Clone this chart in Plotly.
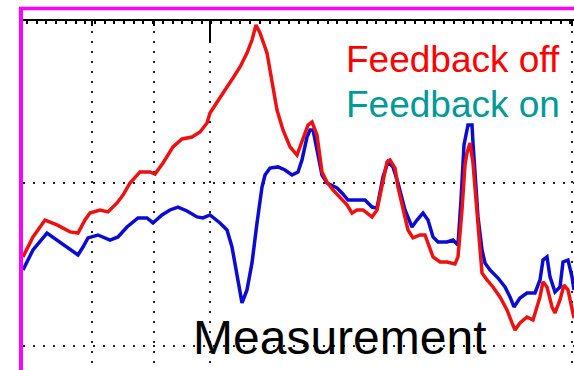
import plotly.graph_objects as go

# Frequency bins (x) and level in dB (y) for both measurements
freq_off = [0, 10, 22, 34, 47, 55, 62, 67, 77, 85, 94, 100, 107, 112, 117, 127, 132, 140, 150, 159,
            169, 177, 184, 187, 195, 204, 210, 217, 224, 229, 233, 237, 244, 249, 254, 260, 267, 274, 280, 285,
            289, 294, 299, 304, 310, 317, 324, 329, 334, 340, 349, 354, 359, 364, 367, 372, 375, 380, 385, 390,
            397, 402, 405, 410, 417, 424, 432, 435, 439, 442, 444, 447, 450, 454, 457, 459, 464, 470, 477, 484,
            489, 492, 497, 504, 510, 517, 520, 524, 529, 532, 537, 541, 545, 549, 551]
level_off = [5.48, 6.71, 7.75, 7.45, 7.02, 6.95, 7.75, 8.18, 8.37, 8.25, 8.80, 9.29, 10.03, 10.40, 10.71, 10.71, 10.58, 11.26, 12.25, 12.74,
             12.86, 13.17, 13.72, 14.34, 15.14, 15.94, 16.49, 17.17, 18.03, 18.83, 19.75, 19.26, 18.03, 16.18, 14.52, 13.29, 12.25, 11.75, 12.68, 13.60,
             13.78, 12.98, 10.71, 10.09, 9.60, 9.17, 8.68, 8.18, 8.37, 8.37, 7.94, 8.37, 9.78, 11.32, 11.45, 10.95, 9.78, 8.37, 7.14, 6.65,
             6.83, 6.83, 6.34, 5.48, 5.17, 5.17, 5.05, 5.48, 8.37, 11.14, 11.88, 12.49, 11.26, 8.37, 5.72, 4.49, 4.06, 3.63, 3.02, 2.22,
             1.42, 0.98, 1.42, 1.78, 1.60, 3.02, 3.94, 3.63, 2.40, 2.03, 2.83, 3.75, 3.45, 2.22, 1.72]

freq_on = [0, 10, 24, 40, 55, 60, 65, 75, 87, 95, 104, 115, 124, 130, 139, 147, 155, 164, 174, 180,
           187, 197, 204, 209, 214, 219, 224, 229, 234, 239, 242, 247, 255, 262, 269, 275, 279, 284, 287, 290,
           294, 299, 304, 314, 319, 325, 334, 342, 349, 354, 360, 365, 370, 375, 382, 389, 394, 400, 405, 410,
           415, 424, 430, 435, 438, 441, 445, 449, 450, 452, 455, 459, 462, 467, 475, 482, 487, 491, 497, 504,
           512, 517, 520, 524, 527, 532, 537, 540, 545, 549, 551]
level_on = [4.68, 5.91, 6.95, 6.22, 5.60, 6.09, 6.65, 6.83, 6.52, 6.71, 7.32, 7.88, 7.88, 7.57, 8.06, 8.37, 8.55, 8.31, 7.94, 7.88,
            8.06, 7.57, 7.14, 6.09, 4.49, 2.65, 3.45, 5.11, 7.57, 9.78, 10.52, 10.95, 11.02, 10.83, 10.52, 10.71, 11.45, 12.86, 13.29, 13.29,
            12.06, 10.52, 10.03, 9.72, 9.42, 8.98, 8.98, 8.98, 8.55, 8.49, 10.40, 11.32, 11.02, 10.03, 8.37, 7.32, 7.75, 8.18, 7.75, 6.71,
            6.40, 6.40, 6.52, 6.22, 8.98, 12.37, 13.60, 13.60, 12.49, 10.40, 7.94, 5.91, 5.11, 4.68, 4.18, 3.63, 3.02, 2.40, 2.95, 3.26,
            3.26, 4.06, 5.29, 5.48, 4.25, 3.32, 3.63, 5.17, 5.29, 4.25, 3.45]

grid_x = [69, 131, 187, 549]
grid_y = [0, 10, 20]
x_range = [0, 551]
y_range = [-1.48, 20.0]

assert len(freq_off) == len(level_off)
assert len(freq_on) == len(level_on)

RED = "#ee1111"
BLUE = "#0b0bd2"
MAGENTA = "#ff00ff"
FONT = "Arial, Liberation Sans, sans-serif"

fig = go.Figure()
fig.add_trace(go.Scatter(x=freq_on, y=level_on, mode="lines",
                         line=dict(color=BLUE, width=3.5), name="Feedback on"))
fig.add_trace(go.Scatter(x=freq_off, y=level_off, mode="lines",
                         line=dict(color=RED, width=3.5), name="Feedback off"))

W, H = 574, 370
ml, mt = 23, 21
pw, ph = W - ml, H - mt


def px_x(px):
    return (px - ml) / pw


def px_y(py):
    return (H - py) / ph


fig.update_layout(
    width=W, height=H,
    margin=dict(l=ml, r=0, t=mt, b=0, pad=0),
    paper_bgcolor="white", plot_bgcolor="white",
    showlegend=False,
    xaxis=dict(
        range=x_range, side="top", showline=True, linecolor="black", linewidth=2,
        tickmode="array", tickvals=grid_x, showticklabels=False,
        ticks="inside", ticklen=5, tickwidth=2, tickcolor="black",
        showgrid=True, gridcolor="#222222", gridwidth=2, griddash="2px,8px",
        zeroline=False,
        minor=dict(tickmode="linear", tick0=4, dtick=9.7, ticks="inside",
                   ticklen=3, tickwidth=1.5, tickcolor="black", showgrid=False),
    ),
    yaxis=dict(
        range=y_range, showline=False, showticklabels=False, ticks="",
        tickmode="array", tickvals=grid_y,
        showgrid=True, gridcolor="#222222", gridwidth=2, griddash="2px,8px",
        zeroline=False,
    ),
    shapes=[
        # long major tick on the top frame
        dict(type="line", xref="x", yref="paper", x0=187, x1=187, y0=1, y1=px_y(42),
             line=dict(color="black", width=2)),
        # magenta border
        dict(type="line", xref="paper", yref="paper", x0=px_x(21), x1=px_x(21),
             y0=px_y(7), y1=-0.02, line=dict(color=MAGENTA, width=4)),
        dict(type="line", xref="paper", yref="paper", x0=px_x(19), x1=1.01,
             y0=px_y(8.5), y1=px_y(8.5), line=dict(color=MAGENTA, width=3.5)),
    ],
    annotations=[
        dict(text="Feedback off", xref="paper", yref="paper", x=px_x(344), y=px_y(59),
             xanchor="left", yanchor="middle", showarrow=False,
             font=dict(family=FONT, size=37, color="#ff0000")),
        dict(text="Feedback on", xref="paper", yref="paper", x=px_x(344), y=px_y(104.5),
             xanchor="left", yanchor="middle", showarrow=False,
             font=dict(family=FONT, size=37, color="#009999")),
        dict(text="Measurement", xref="paper", yref="paper", x=px_x(191), y=px_y(337.5),
             xanchor="left", yanchor="middle", showarrow=False,
             font=dict(family=FONT, size=48, color="black")),
    ],
)

fig.write_html("out.html")
